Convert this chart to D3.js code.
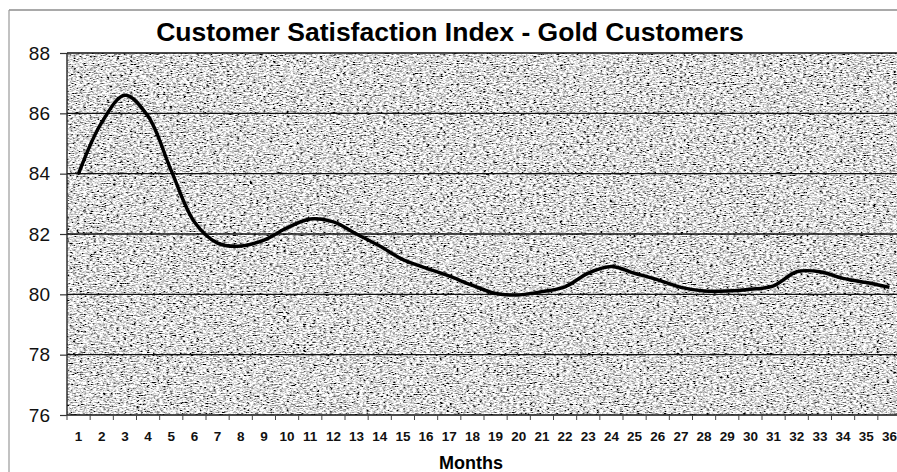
<!DOCTYPE html>
<html lang="en">
<head>
<meta charset="UTF-8">
<script src="https://d3js.org/d3.v7.min.js"></script>
<style>
  body { margin: 0; background: #fff; }
  svg { display: block; font-family: Arial, "Liberation Sans", sans-serif; }
</style>
</head>
<body>
<div id="chart"></div>
<script>
  // values
  var months = d3.range(1, 37);
  var csi = [84.0, 85.7, 86.6, 85.9, 84.1, 82.4, 81.7, 81.6, 81.8, 82.2,
             82.5, 82.4, 82.0, 81.6, 81.15, 80.87, 80.6, 80.3, 80.03, 79.98,
             80.09, 80.25, 80.7, 80.92, 80.7, 80.48, 80.23, 80.11, 80.11, 80.17,
             80.28, 80.75, 80.75, 80.53, 80.39, 80.23];
  var yTicks = [76, 78, 80, 82, 84, 86, 88];
  var title = "Customer Satisfaction Index - Gold Customers";

  var width = 897, height = 472;
  var margin = {top: 53, right: -4, bottom: 57, left: 67};

  var svg = d3.select("#chart").append("svg")
      .attr("width", width)
      .attr("height", height);

  // grainy grey fill like the scanned original
  var defs = svg.append("defs");
  var f = defs.append("filter").attr("id", "grain")
      .attr("x", 0).attr("y", 0).attr("width", 1).attr("height", 1);
  f.append("feTurbulence")
      .attr("type", "fractalNoise")
      .attr("baseFrequency", "0.3 0.9")
      .attr("numOctaves", 3)
      .attr("seed", 4);
  f.append("feColorMatrix")
      .attr("type", "matrix")
      .attr("values", "2.8 0 0 0 -0.68  2.8 0 0 0 -0.68  2.8 0 0 0 -0.68  0 0 0 0 1");

  var x = d3.scaleBand()
      .domain(months)
      .range([margin.left, width - margin.right])
      .paddingInner(0).paddingOuter(0);

  var y = d3.scaleLinear()
      .domain([76, 88])
      .range([height - margin.bottom, margin.top]);

  // outer frame
  svg.append("line").attr("x1", 9).attr("x2", width).attr("y1", 10).attr("y2", 10)
      .attr("stroke", "#555").attr("stroke-width", 1.2);
  svg.append("line").attr("x1", 9).attr("x2", 9).attr("y1", 10).attr("y2", height)
      .attr("stroke", "#999").attr("stroke-width", 1.2);

  // plot area
  svg.append("rect")
      .attr("x", x.range()[0]).attr("y", y(88))
      .attr("width", x.range()[1] - x.range()[0])
      .attr("height", y(76) - y(88))
      .attr("fill", "#aaa")
      .attr("filter", "url(#grain)");

  // gridlines
  svg.append("g")
      .selectAll("line")
      .data(yTicks)
      .join("line")
      .attr("x1", x.range()[0]).attr("x2", x.range()[1])
      .attr("y1", d => y(d)).attr("y2", d => y(d))
      .attr("stroke", "#111")
      .attr("stroke-width", 1.4);

  svg.append("line")
      .attr("x1", x.range()[0]).attr("x2", x.range()[0])
      .attr("y1", y(88)).attr("y2", y(76))
      .attr("stroke", "#222").attr("stroke-width", 1.4);

  // y axis
  svg.append("g")
      .attr("transform", `translate(${margin.left},0)`)
      .call(d3.axisLeft(y).tickValues(yTicks).tickSize(7).tickPadding(10))
      .call(g => g.select(".domain").remove())
      .call(g => g.selectAll(".tick line").attr("stroke", "#333").attr("stroke-width", 1.2))
      .call(g => g.selectAll("text").attr("font-size", 19).attr("fill", "#111")
          .attr("font-family", "Arial, 'Liberation Sans', sans-serif"));

  // x axis: labels centred in bands, small ticks on band edges
  svg.append("g")
      .attr("transform", `translate(0,${y(76)})`)
      .call(d3.axisBottom(x).tickSize(0).tickPadding(16))
      .call(g => g.select(".domain").remove())
      .call(g => g.selectAll("text").attr("font-size", 13.5).attr("font-weight", "bold")
          .attr("fill", "#111").attr("font-family", "Arial, 'Liberation Sans', sans-serif"));

  svg.append("g")
      .selectAll("line")
      .data(months)
      .join("line")
      .attr("x1", d => x(d)).attr("x2", d => x(d))
      .attr("y1", y(76)).attr("y2", y(76) + 5)
      .attr("stroke", "#444").attr("stroke-width", 1);

  // the series
  var line = d3.line()
      .x((d, i) => x(months[i]) + x.bandwidth() / 2)
      .y(d => y(d))
      .curve(d3.curveCatmullRom.alpha(0.5));

  svg.append("path")
      .datum(csi)
      .attr("fill", "none")
      .attr("stroke", "#000")
      .attr("stroke-width", 3.5)
      .attr("stroke-linejoin", "round")
      .attr("d", line);

  // titles
  svg.append("text")
      .attr("x", 450).attr("y", 41)
      .attr("text-anchor", "middle")
      .attr("font-size", 26.5).attr("font-weight", "bold")
      .attr("fill", "#000")
      .text(title);

  svg.append("text")
      .attr("x", 471).attr("y", 469)
      .attr("text-anchor", "middle")
      .attr("font-size", 18).attr("font-weight", "bold")
      .attr("fill", "#000")
      .text("Months");
</script>
</body>
</html>
